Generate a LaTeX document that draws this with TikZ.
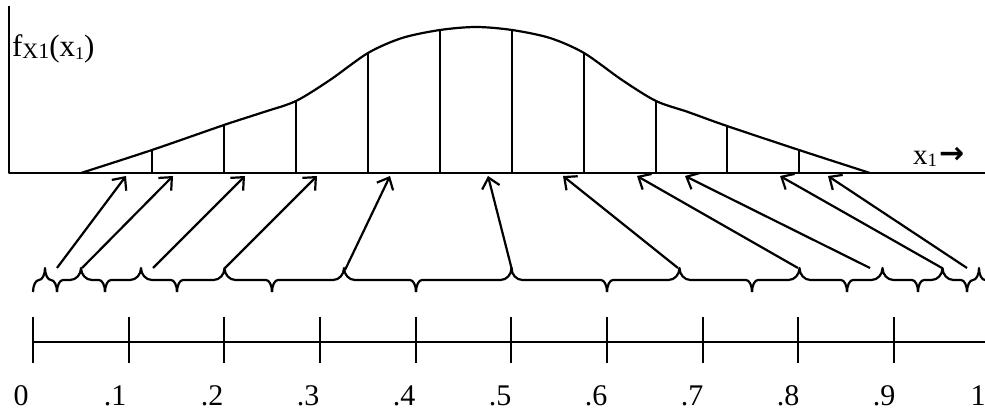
\documentclass[tikz,border=0pt]{standalone}
\usepackage{fontspec}
\setmainfont{Liberation Serif}
\newfontfamily\arrowfont{DejaVu Sans}
\usetikzlibrary{arrows.meta}
\begin{document}
\begin{tikzpicture}[x=1pt,y=-1pt,line width=2.2pt,line join=round,
  arr/.style={-{Straight Barb[length=10pt,width=18pt,line width=2.2pt]},line width=2.2pt},
  lbl/.style={inner sep=0pt,font=\fontsize{30}{32}\selectfont}]
\useasboundingbox (0,0) rectangle (985,411);
% axes of density plot
\coordinate (org) at (9,173);
\coordinate (ytop) at (9,6);
\coordinate (xend) at (985,173);
\draw (ytop) -- (org) -- (xend);
% density curve
\draw plot[smooth,tension=0.5] coordinates {(81,173) (152,150) (224,125) (264,112) (296,101) (330,80) (368,53) (402,38) (440,30) (476,27) (512,30) (550,38) (584,53) (622,80) (656,101) (688,112) (727,126) (799,150) (870,173)};
\foreach \x/\y in {152/150,224/125,296/101,368/53,440/30,512/30,584/53,656/101,727/126,799/150}
  \draw (\x,173) -- (\x,\y);
% labels
\node[inner sep=0pt,anchor=base west] (flab) at (11,57) {\fontsize{31}{32}\selectfont f\raisebox{-2pt}{\fontsize{22}{22}\selectfont X1}(x\raisebox{-3pt}{\fontsize{18}{18}\selectfont 1})};
\node[inner sep=0pt,anchor=base west] (xlab) at (912,165) {\fontsize{29}{30}\selectfont x\raisebox{-2pt}{\fontsize{19}{19}\selectfont 1}\hspace{2pt}\raisebox{1pt}{\arrowfont\bfseries\fontsize{30}{30}\selectfont →}};
% braces
\foreach \a/\b in {33/57,57/105,105/177,177/272,272/416,416/607,607/752,752/847,847/918,918/967,967/991}{
  \pgfmathsetmacro\m{(\a+\b)/2}
  \pgfmathsetmacro\h{(\b-\a)/2}
  \pgfmathsetmacro\r{min(6,\h/2)}
  \pgfmathsetmacro\R{min(11,\h/2)}
  \draw (\a,292) .. controls (\a,285.4) and (\a+0.45*\r,280) .. (\a+\r,280) -- (\m-\R,280)
        .. controls (\m-0.45*\R,280) and (\m,274.6) .. (\m,268)
        .. controls (\m,274.6) and (\m+0.45*\R,280) .. (\m+\R,280)
        -- (\b-\r,280) .. controls (\b-0.45*\r,280) and (\b,285.4) .. (\b,292);
}
% arrows from braces to x axis
\foreach \i/\tx/\ty/\hx in {1/57/268/126,2/82/268/173,3/153/268/245,4/225/268/317,5/345/270/390,6/512/270/488,7/678/268/563,8/798/268/637,9/870/268/685,10/942/268/780,11/967/268/828}{
  \coordinate (t\i) at (\tx,\ty);
  \coordinate (h\i) at (\hx,176);
  \draw[arr] (t\i) -- (h\i);
}
% uniform axis
\coordinate (u0) at (33,342);
\coordinate (u1) at (985,342);
\draw (u0) -- (u1);
\foreach \i in {0,...,9}
  \draw (33+95.67*\i,317) -- (33+95.67*\i,363);
\foreach \x/\t in {21/0,115/.1,212/.2,308/.3,404/.4,500/.5,596/.6,692/.7,788/.8,884/.9,978/1}
  \node[lbl,anchor=base] at (\x,406) {\t};
\end{tikzpicture}
\end{document}
